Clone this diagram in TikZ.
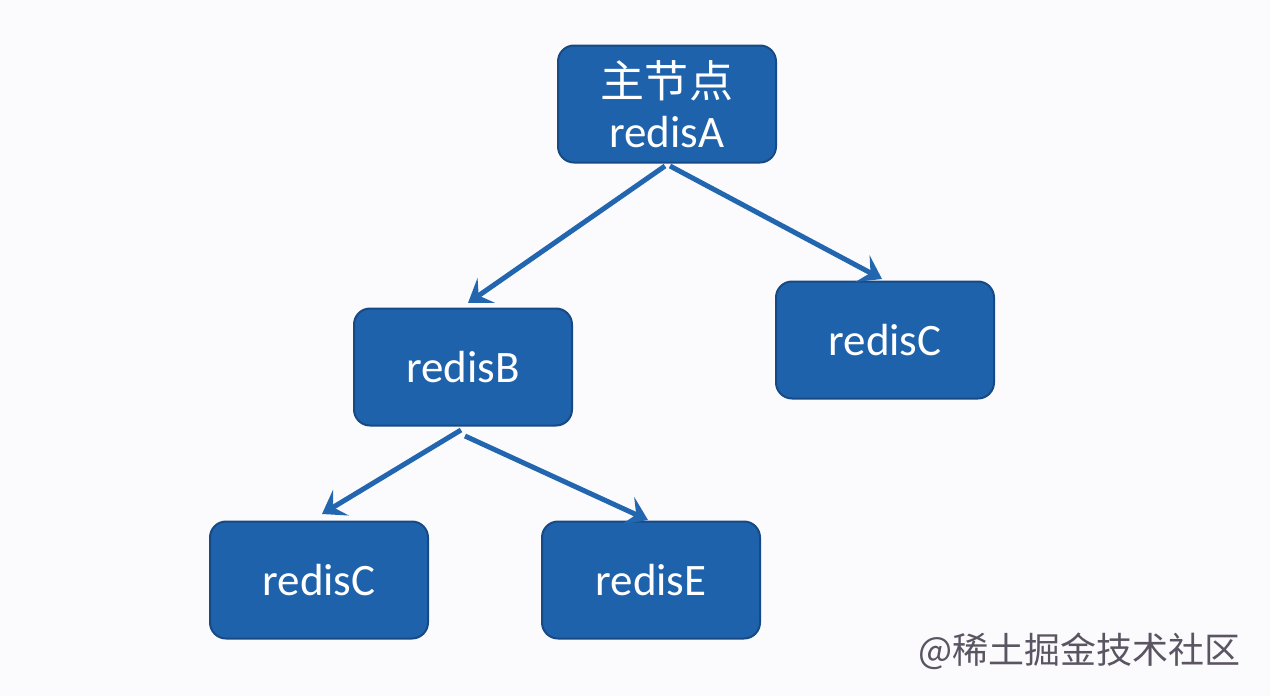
\documentclass[tikz,border=0pt]{standalone}
\usepackage{fontspec}
\setmainfont{Carlito}
\newfontfamily\cjk{Noto Sans CJK SC}
\usetikzlibrary{arrows.meta}
\definecolor{boxfill}{HTML}{1F62AC}
\definecolor{boxline}{HTML}{174A85}
\definecolor{arrowc}{HTML}{2366B0}
\definecolor{bg}{HTML}{FBFBFD}
\definecolor{wm}{HTML}{5B5462}
\begin{document}
\begin{tikzpicture}[x=1pt,y=-1pt,
  nodebox/.style={draw=boxline,line width=2pt,fill=boxfill,rounded corners=16pt,
    minimum width=218pt,minimum height=117pt,text=white,font=\fontsize{45}{50}\selectfont,
    align=center,inner sep=0pt},
  link/.style={draw=arrowc,line width=5pt,
    -{Stealth[length=22pt,width=30pt,inset=9pt]}}]
\useasboundingbox[fill=bg] (0,0) rectangle (1270,696);
\node[nodebox] (a) at (667,104) {{\cjk\fontsize{44}{48}\selectfont 主\hspace{1pt}节\hspace{1pt}点}\\[0pt]redisA};
\node[nodebox] (b) at (463,367) {redisB};
\node[nodebox] (c1) at (885,340) {redisC};
\node[nodebox] (c2) at (319,580) {redisC};
\node[nodebox] (e) at (651,580) {redisE};
\coordinate (a1) at (665,166);
\coordinate (a2) at (670,166);
\coordinate (b1) at (461,430);
\coordinate (b2) at (465,436);
\draw[link] (a1) -- (468,303) coordinate (bt);
\draw[link] (a2) -- (882,279);
\draw[link] (b1) -- (322,514);
\draw[link] (b2) -- (648,520);
\node[text=wm,font=\cjk\fontsize{36}{40}\selectfont,anchor=east] (wmk) at (1244,651) {@稀土掘金技术社区};
\end{tikzpicture}
\end{document}
